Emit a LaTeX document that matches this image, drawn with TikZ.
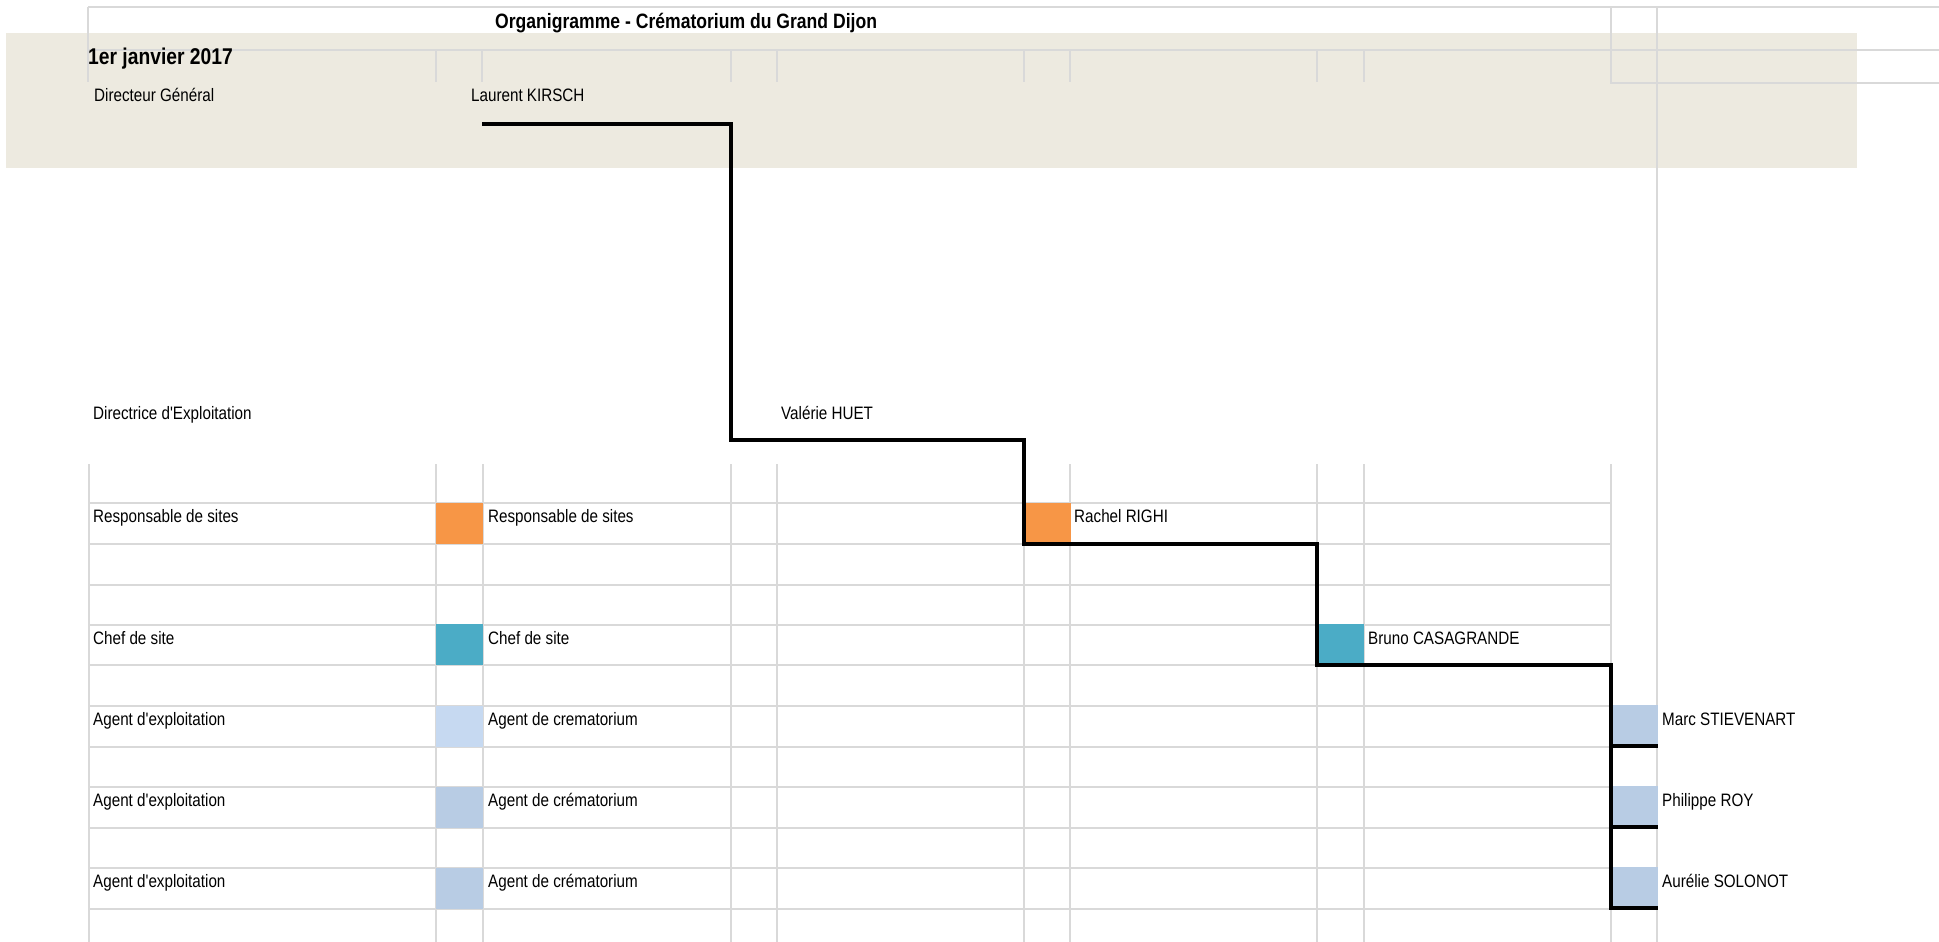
\documentclass[tikz,border=0pt]{standalone}
\usepackage{fontspec}
\setmainfont{Liberation Sans}[FakeStretch=0.845,Ligatures=TeXOff]
\definecolor{beige}{RGB}{237,234,224}
\definecolor{gridgray}{RGB}{217,217,217}
\definecolor{orangebox}{RGB}{247,150,70}
\definecolor{tealbox}{RGB}{75,172,198}
\definecolor{paleblue}{RGB}{198,217,241}
\definecolor{greyblue}{RGB}{184,204,228}
\tikzset{
  lbl/.style={anchor=base west, inner sep=0pt, font=\fontsize{18}{21}\selectfont},
  ttl/.style={anchor=base west, inner sep=0pt, font=\bfseries\fontsize{20.8}{24}\selectfont},
  datelbl/.style={anchor=base west, inner sep=0pt, font=\bfseries\fontsize{22.8}{26}\selectfont},
  gridln/.style={draw=gridgray, line width=1.7pt},
  conn/.style={draw=black, line width=3.6pt},
  cell/.style={anchor=north west, inner sep=0pt, outer sep=0pt, minimum width=47pt, minimum height=41pt, draw=none},
}
\begin{document}
\begin{tikzpicture}[x=1pt,y=-1pt]
\useasboundingbox (0,0) rectangle (1939,942);
\fill[white] (0,0) rectangle (1939,942);
% beige band
\fill[beige] (6,33) rectangle (1857,168);
% top grid
\draw[gridln] (88,7) -- (1939,7);
\draw[gridln] (88,7) -- (88,82);
\draw[gridln] (88,50) -- (1939,50);
\foreach \x in {436,482,731,777,1024,1070,1317,1364}
  \draw[gridln] (\x,50) -- (\x,82);
\draw[gridln] (1611,7) -- (1611,83) -- (1939,83);
\draw[gridln] (1657,7) -- (1657,942);
% lower grid
\foreach \x in {89,436,483,731,777,1024,1070,1317,1364,1611}
  \draw[gridln] (\x,464) -- (\x,942);
\foreach \y in {503,544,585,625,665,706,747,787,828,868,909}
  \draw[gridln] (89,\y) -- (1611,\y);
% colour cells
\node[cell, fill=orangebox] (c1) at (436,503) {};
\node[cell, fill=orangebox] (rrighi) at (1024,503) {};
\node[cell, fill=tealbox] (c2) at (436,624) {};
\node[cell, fill=tealbox] (bcasa) at (1317,624) {};
\node[cell, fill=paleblue] (c3) at (436,706) {};
\node[cell, fill=greyblue] (mstiev) at (1611,705) {};
\node[cell, fill=greyblue] (c4) at (436,787) {};
\node[cell, fill=greyblue] (proy) at (1611,786) {};
\node[cell, fill=greyblue] (c5) at (436,868) {};
\node[cell, fill=greyblue] (asolo) at (1611,867) {};
% texts
\node[ttl] (title) at (495,28.3) {Organigramme - Crématorium du Grand Dijon};
\node[datelbl] (date) at (88,65) {1er janvier 2017};
\node[lbl] (dg) at (94,102) {Directeur Général};
\node[lbl] (kirsch) at (471,102) {Laurent KIRSCH};
\node[lbl] (de) at (93,419) {Directrice d'Exploitation};
\node[lbl] (huet) at (781,419) {Valérie HUET};
\node[lbl] (t1a) at (93,522) {Responsable de sites};
\node[lbl] (t1b) at (488,522) {Responsable de sites};
\node[lbl] (t1c) at (1074,522) {Rachel RIGHI};
\node[lbl] (t2a) at (93,644) {Chef de site};
\node[lbl] (t2b) at (488,644) {Chef de site};
\node[lbl] (t2c) at (1368,644) {Bruno CASAGRANDE};
\node[lbl] (t3a) at (93,725) {Agent d'exploitation};
\node[lbl] (t3b) at (488,725) {Agent de crematorium};
\node[lbl] (t3c) at (1662,725) {Marc STIEVENART};
\node[lbl] (t4a) at (93,806) {Agent d'exploitation};
\node[lbl] (t4b) at (488,806) {Agent de crématorium};
\node[lbl] (t4c) at (1662,806) {Philippe ROY};
\node[lbl] (t5a) at (93,887) {Agent d'exploitation};
\node[lbl] (t5b) at (488,887) {Agent de crématorium};
\node[lbl] (t5c) at (1662,887) {Aurélie SOLONOT};
% connectors
\coordinate (kstart) at (482,124);
\coordinate (hturn) at (731,440);
\draw[conn] (kstart) -| (hturn) -| (rrighi.south west) -| (bcasa.south west) -| (mstiev.south west) -- (asolo.south west) -- (asolo.south east);
\draw[conn] (mstiev.south west) -- (mstiev.south east);
\draw[conn] (proy.south west) -- (proy.south east);
\end{tikzpicture}
\end{document}
